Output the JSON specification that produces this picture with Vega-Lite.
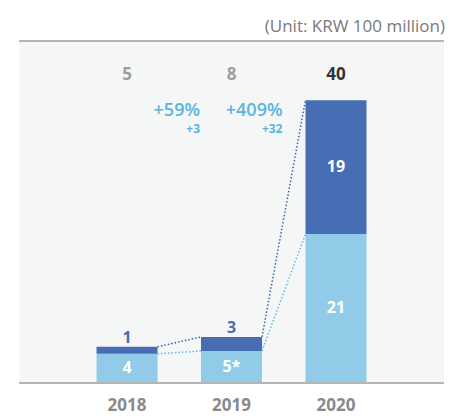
{
  "$schema": "https://vega.github.io/schema/vega-lite/v6.json",
  "width": 425,
  "height": 341,
  "autosize": {"type": "none"},
  "padding": {"left": 19, "top": 41, "right": 29, "bottom": 34},
  "background": "#ffffff",
  "config": {"font": "Open Sans", "view": {"fill": "#f5f7f7", "stroke": null}},
  "title": {
    "text": "(Unit: KRW 100 million)",
    "anchor": "end",
    "fontSize": 17,
    "fontWeight": "normal",
    "color": "#7a7a7a",
    "offset": 4
  },
  "layer": [
    {
      "data": {"values": [{"edge": "top"}]},
      "mark": {"type": "rule", "color": "#b5b5b5", "strokeWidth": 2},
      "encoding": {"y": {"datum": 48.4, "type": "quantitative", "axis": null}}
    },
    {
      "data": {"values": [{"edge": "bottom"}]},
      "mark": {"type": "rule", "color": "#b5b5b5", "strokeWidth": 2, "yOffset": 1},
      "encoding": {"y": {"datum": 0, "type": "quantitative", "axis": null}}
    },
    {
      "data": {"values": [
        {"year": 2018, "segment": "light", "value": 4, "label": "4"},
        {"year": 2018, "segment": "dark", "value": 1, "label": "1"},
        {"year": 2019, "segment": "light", "value": 4.4, "label": "5*"},
        {"year": 2019, "segment": "dark", "value": 2.0, "label": "3"},
        {"year": 2020, "segment": "light", "value": 21, "label": "21"},
        {"year": 2020, "segment": "dark", "value": 19, "label": "19"}
      ]},
      "layer": [
        {
          "mark": {"type": "bar", "width": 61},
          "encoding": {
            "x": {
              "field": "year",
              "type": "quantitative",
              "scale": {"domain": [2017.014, 2020.986], "nice": false, "zero": false},
              "axis": null
            },
            "y": {
              "field": "value",
              "type": "quantitative",
              "stack": "zero",
              "scale": {"domain": [0, 48.4], "nice": false},
              "axis": null
            },
            "color": {
              "field": "segment",
              "type": "nominal",
              "scale": {"domain": ["light", "dark"], "range": ["#92cbe8", "#476eb4"]},
              "legend": null
            },
            "order": {"field": "segment", "type": "nominal", "sort": "descending"}
          }
        },
        {
          "mark": {"type": "text", "color": "#ffffff", "fontSize": 16, "fontWeight": "bold", "baseline": "middle"},
          "encoding": {
            "x": {"field": "year", "type": "quantitative", "axis": null},
            "y": {"field": "value", "type": "quantitative", "stack": "zero", "bandPosition": 0.5, "axis": null},
            "detail": {"field": "segment", "type": "nominal"},
            "order": {"field": "segment", "type": "nominal", "sort": "descending"},
            "text": {"field": "label", "type": "nominal"},
            "opacity": {
              "condition": {"test": "datum.segment == 'light' || datum.year == 2020", "value": 1},
              "value": 0
            }
          }
        },
        {
          "mark": {"type": "text", "color": "#476eb4", "fontSize": 16, "fontWeight": "bold", "baseline": "alphabetic", "dy": -4},
          "encoding": {
            "x": {"field": "year", "type": "quantitative", "axis": null},
            "y": {"field": "value", "type": "quantitative", "stack": "zero", "axis": null},
            "detail": {"field": "segment", "type": "nominal"},
            "order": {"field": "segment", "type": "nominal", "sort": "descending"},
            "text": {"field": "label", "type": "nominal"},
            "opacity": {
              "condition": {"test": "datum.segment == 'dark' && datum.year != 2020", "value": 1},
              "value": 0
            }
          }
        }
      ]
    },
    {
      "data": {"values": [
        {"series": "dark", "from": 2018, "to": 2019, "yFrom": 5, "yTo": 6.4},
        {"series": "dark", "from": 2019, "to": 2020, "yFrom": 6.4, "yTo": 40},
        {"series": "light", "from": 2018, "to": 2019, "yFrom": 4, "yTo": 4.4},
        {"series": "light", "from": 2019, "to": 2020, "yFrom": 4.4, "yTo": 21}
      ]},
      "mark": {"type": "rule", "strokeWidth": 1.5, "strokeDash": [1.5, 2], "xOffset": 30.5, "x2Offset": -30.5},
      "encoding": {
        "x": {"field": "from", "type": "quantitative", "axis": null},
        "x2": {"field": "to"},
        "y": {"field": "yFrom", "type": "quantitative", "axis": null},
        "y2": {"field": "yTo"},
        "stroke": {
          "field": "series",
          "type": "nominal",
          "scale": {"domain": ["light", "dark"], "range": ["#5bbde6", "#3a62a8"]},
          "legend": null
        }
      }
    },
    {
      "data": {"values": [
        {"year": 2018, "total": "5"},
        {"year": 2019, "total": "8"},
        {"year": 2020, "total": "40"}
      ]},
      "layer": [
        {
          "mark": {"type": "text", "fontSize": 17, "fontWeight": "bold", "baseline": "alphabetic"},
          "encoding": {
            "x": {"field": "year", "type": "quantitative", "axis": null},
            "y": {"datum": 42.84, "type": "quantitative", "axis": null},
            "text": {"field": "total", "type": "nominal"},
            "color": {"condition": {"test": "datum.year == 2020", "value": "#333333"}, "value": "#9e9e9e"}
          }
        },
        {
          "mark": {"type": "text", "fontSize": 17, "fontWeight": "bold", "baseline": "alphabetic", "color": "#8a8a8a"},
          "encoding": {
            "x": {"field": "year", "type": "quantitative", "axis": null},
            "y": {"datum": -4.07, "type": "quantitative", "axis": null},
            "text": {"field": "year", "type": "quantitative", "format": "d"}
          }
        }
      ]
    },
    {
      "data": {"values": [
        {"year": 2019, "pct": "+59%", "diff": "+3"},
        {"year": 2020, "pct": "+409%", "diff": "+32"}
      ]},
      "layer": [
        {
          "transform": [{"filter": "datum.year == 2019"}],
          "mark": {"type": "text", "fontSize": 18, "fontWeight": 600, "baseline": "alphabetic", "align": "right", "dx": -31.5, "color": "#5ab4df"},
          "encoding": {
            "x": {"field": "year", "type": "quantitative", "axis": null},
            "y": {"datum": 37.75, "type": "quantitative", "axis": null},
            "text": {"field": "pct", "type": "nominal"}
          }
        },
        {
          "transform": [{"filter": "datum.year == 2019"}],
          "mark": {"type": "text", "fontSize": 12, "fontWeight": "bold", "baseline": "alphabetic", "align": "right", "dx": -31.5, "color": "#5ab4df"},
          "encoding": {
            "x": {"field": "year", "type": "quantitative", "axis": null},
            "y": {"datum": 35.3, "type": "quantitative", "axis": null},
            "text": {"field": "diff", "type": "nominal"}
          }
        },
        {
          "transform": [{"filter": "datum.year == 2020"}],
          "mark": {"type": "text", "fontSize": 18, "fontWeight": 600, "baseline": "alphabetic", "align": "right", "dx": -53.5, "color": "#5ab4df"},
          "encoding": {
            "x": {"field": "year", "type": "quantitative", "axis": null},
            "y": {"datum": 37.75, "type": "quantitative", "axis": null},
            "text": {"field": "pct", "type": "nominal"}
          }
        },
        {
          "transform": [{"filter": "datum.year == 2020"}],
          "mark": {"type": "text", "fontSize": 12, "fontWeight": "bold", "baseline": "alphabetic", "align": "right", "dx": -53.5, "color": "#5ab4df"},
          "encoding": {
            "x": {"field": "year", "type": "quantitative", "axis": null},
            "y": {"datum": 35.3, "type": "quantitative", "axis": null},
            "text": {"field": "diff", "type": "nominal"}
          }
        }
      ]
    }
  ]
}
